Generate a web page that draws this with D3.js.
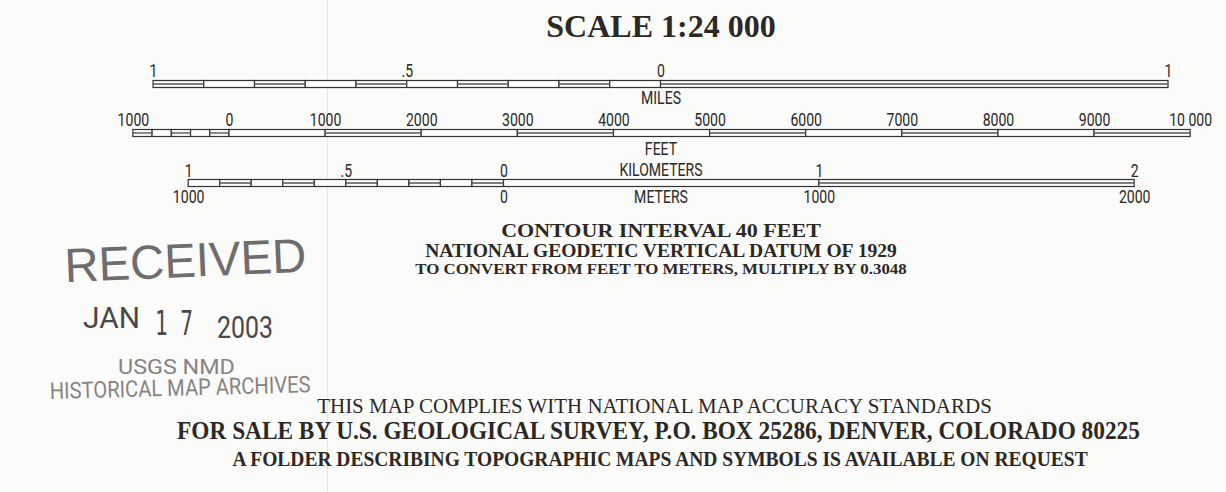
<!DOCTYPE html>
<html>
<head>
<meta charset="utf-8">
<script src="https://cdn.jsdelivr.net/npm/d3@7"></script>
<style>
  html, body { margin: 0; padding: 0; background: #fbfbfa; }
  svg { display: block; }
</style>
</head>
<body>
<svg id="chart" width="1226" height="492"></svg>
<script>
// unit conversions used to lay the three bars on one ground scale
const FEET_PER_MILE = 5280;
const FEET_PER_KM = 3280.84;

// miles bar
const mileTicks = [-1, -0.9, -0.8, -0.7, -0.6, -0.5, -0.4, -0.3, -0.2, -0.1, 0, 1];
const mileFilled = [1, 0, 1, 0, 1, 0, 1, 0, 1, 0, 1];
const mileLabelVals = [-1, -0.5, 0, 1];
const mileLabels = ['1', '.5', '0', '1'];

// feet bar
const feetTicks = [-1000, -800, -600, -400, -200, 0, 1000, 2000, 3000, 4000, 5000, 6000, 7000, 8000, 9000, 10000];
const feetFilled = [1, 0, 1, 0, 1, 0, 1, 0, 1, 0, 1, 0, 1, 0, 1];
const feetLabelVals = [-1000, 0, 1000, 2000, 3000, 4000, 5000, 6000, 7000, 8000, 9000, 10000];
const feetLabels = ['1000', '0', '1000', '2000', '3000', '4000', '5000', '6000', '7000', '8000', '9000', '10 000'];

// kilometers / meters bar
const kmTicks = [-1, -0.9, -0.8, -0.7, -0.6, -0.5, -0.4, -0.3, -0.2, -0.1, 0, 1, 2];
const kmFilled = [0, 1, 0, 1, 0, 1, 0, 1, 0, 1, 0, 1];
const kmLabelVals = [-1, -0.5, 0, 1, 2];
const kmLabels = ['1', '.5', '0', '1', '2'];
const meterLabelVals = [-1, 0, 1, 2];
const meterLabels = ['1000', '0', '1000', '2000'];

// notes under the bars
const datumNotes = ['CONTOUR INTERVAL 40 FEET', 'NATIONAL GEODETIC VERTICAL DATUM OF 1929', 'TO CONVERT FROM FEET TO METERS, MULTIPLY BY 0.3048'];
const footerNotes = ['THIS MAP COMPLIES WITH NATIONAL MAP ACCURACY STANDARDS',
  'FOR SALE BY U.S. GEOLOGICAL SURVEY, P.O. BOX 25286, DENVER, COLORADO 80225',
  'A FOLDER DESCRIBING TOPOGRAPHIC MAPS AND SYMBOLS IS AVAILABLE ON REQUEST'];

const svg = d3.select('#chart');
const narrow = 'Roboto, "Liberation Sans", sans-serif';
const squeeze = 'scale(0.74,1)'; // fake a condensed face
const serif = '"Liberation Serif", "Times New Roman", serif';
const ink = '#2b2826';

// squeeze/stretch a text to a given width with a transform (keeps its box honest)
function fitText(t, x, y, len, rot) {
  const w = t.node().getComputedTextLength();
  t.attr('transform', `translate(${x},${y}) rotate(${rot || 0}) scale(${len / w},1)`);
  return t;
}

// faint fold line of the scanned sheet
svg.append('line')
  .attr('x1', 327.5).attr('x2', 327.5).attr('y1', 0).attr('y2', 492)
  .attr('stroke', '#e6e6e6').attr('stroke-width', 1);

// one ground scale in px per foot
const pxPerFoot = (1168 - 153) / (2 * FEET_PER_MILE);
const mileX = d3.scaleLinear().domain([0, 1]).range([660.5, 660.5 + FEET_PER_MILE * pxPerFoot]);
const feetX = d3.scaleLinear().domain([0, 1000]).range([229, 229 + 1000 * pxPerFoot]);
const kmX = d3.scaleLinear().domain([0, 1]).range([503.5, 503.5 + FEET_PER_KM * pxPerFoot]);

function drawBar(x, ticks, filled, y, h) {
  const g = svg.append('g');
  const segs = d3.pairs(ticks).map((p, i) => ({a: p[0], b: p[1], f: filled[i]}));
  g.selectAll('rect').data(segs).enter().append('rect')
    .attr('x', d => x(d.a)).attr('y', y)
    .attr('width', d => x(d.b) - x(d.a)).attr('height', h)
    .attr('fill', '#fdfdfc').attr('stroke', '#333').attr('stroke-width', 1.2);
  g.selectAll('line.mid').data(segs.filter(d => d.f)).enter().append('line')
    .attr('class', 'mid')
    .attr('x1', d => x(d.a)).attr('x2', d => x(d.b))
    .attr('y1', y + h / 2).attr('y2', y + h / 2)
    .attr('stroke', '#555').attr('stroke-width', 1.4);
}

function drawAxis(axis, x, vals, labels, y, pad) {
  const g = svg.append('g').attr('transform', `translate(0,${y})`)
    .call(axis(x).tickValues(vals).tickFormat((d, i) => labels[i]).tickSize(0).tickPadding(pad));
  g.select('.domain').remove();
  g.attr('font-family', narrow).attr('font-size', 19);
  g.selectAll('text').attr('fill', ink).attr('transform', squeeze);
}

function centerLabel(text, y) {
  svg.append('text').attr('transform', `translate(661,${y}) ${squeeze}`).attr('text-anchor', 'middle')
    .attr('font-family', narrow).attr('font-size', 19).attr('fill', ink).text(text);
}

// title
svg.append('text').attr('x', 661).attr('y', 37).attr('text-anchor', 'middle')
  .attr('font-family', serif).attr('font-weight', 'bold').attr('font-size', 32)
  .attr('fill', ink).text('SCALE 1:24 000');

// miles
drawBar(mileX, mileTicks, mileFilled, 80.5, 7);
drawAxis(d3.axisTop, mileX, mileLabelVals, mileLabels, 80, 3);
centerLabel('MILES', 104);

// feet
drawBar(feetX, feetTicks, feetFilled, 129.5, 7);
drawAxis(d3.axisTop, feetX, feetLabelVals, feetLabels, 129, 3);
centerLabel('FEET', 155);

// km / meters
centerLabel('KILOMETERS', 176);
drawBar(kmX, kmTicks, kmFilled, 179.5, 7);
drawAxis(d3.axisTop, kmX, kmLabelVals, kmLabels, 179, 2);
drawAxis(d3.axisBottom, kmX, meterLabelVals, meterLabels, 186, 4);
centerLabel('METERS', 203);

// datum notes
const datumY = [237, 257, 274];
const datumSize = [19, 18, 15];
const datumLen = [320, 472, 492];
datumNotes.forEach((t, i) => {
  const txt = svg.append('text').attr('text-anchor', 'middle')
    .attr('font-family', serif).attr('font-weight', 'bold').attr('font-size', datumSize[i])
    .attr('fill', ink).text(t);
  fitText(txt, 661, datumY[i], datumLen[i]);
});

// footer notes
const footX = [654.5, 658.5, 660];
const footY = [413, 439, 466];
const footSize = [22, 26, 21];
const footWeight = ['normal', 'bold', 'bold'];
const footLen = [675, 963, 856];
footerNotes.forEach((t, i) => {
  const txt = svg.append('text').attr('text-anchor', 'middle')
    .attr('font-family', serif).attr('font-weight', footWeight[i]).attr('font-size', footSize[i])
    .attr('fill', ink).text(t);
  fitText(txt, footX[i], footY[i], footLen[i]);
});

// received stamp
const stamp = svg.append('g').attr('fill', '#6e6c6c').attr('font-family', '"Liberation Sans", Arial, sans-serif');
fitText(stamp.append('text').attr('text-anchor', 'middle').attr('font-size', 48).text('RECEIVED'), 186, 277, 242, -2.5);
fitText(stamp.append('text').attr('font-family', narrow).attr('font-size', 30)
  .attr('fill', '#4a4848').text('JAN'), 83, 328, 57);
fitText(stamp.append('text').attr('font-family', '"DejaVu Sans Mono", monospace').attr('font-size', 34)
  .attr('fill', '#4a4848').text('1 7'), 155, 335, 38);
fitText(stamp.append('text').attr('font-family', narrow).attr('font-size', 31)
  .attr('fill', '#4a4848').text('2003'), 217, 338, 56);
fitText(stamp.append('text').attr('font-family', narrow).attr('font-size', 21)
  .attr('fill', '#858383').text('USGS NMD'), 118, 374, 117);
fitText(stamp.append('text').attr('font-family', narrow).attr('font-size', 23)
  .attr('fill', '#858383').text('HISTORICAL MAP ARCHIVES'), 50, 399, 261, -1.5);
</script>
</body>
</html>
